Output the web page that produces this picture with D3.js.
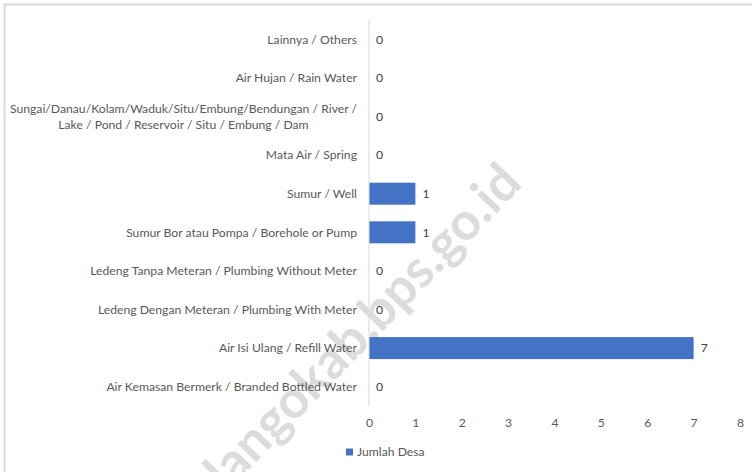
<!DOCTYPE html>
<html>
<head>
<meta charset="utf-8">
<script src="https://cdn.jsdelivr.net/npm/d3@7"></script>
<style>
  html, body { margin: 0; padding: 0; background: #fff; }
  svg { display: block; }
  text { font-family: Lato, "Open Sans", sans-serif; }
</style>
</head>
<body>
<svg id="chart" width="752" height="472"></svg>
<script>
// ---- data ----
const categories = [
  ["Lainnya / Others"],
  ["Air Hujan / Rain Water"],
  ["Sungai/Danau/Kolam/Waduk/Situ/Embung/Bendungan / River /", "Lake / Pond / Reservoir / Situ / Embung / Dam"],
  ["Mata Air / Spring"],
  ["Sumur / Well"],
  ["Sumur Bor atau Pompa / Borehole or Pump"],
  ["Ledeng Tanpa Meteran / Plumbing Without Meter"],
  ["Ledeng Dengan Meteran / Plumbing With Meter"],
  ["Air Isi Ulang / Refill Water"],
  ["Air Kemasan Bermerk / Branded Bottled Water"]
];
const values = [0, 0, 0, 0, 1, 1, 0, 0, 7, 0];
const xTicks = [0, 1, 2, 3, 4, 5, 6, 7, 8];
const seriesName = "Jumlah Desa";
const watermark = "bonebolangokab.bps.go.id";

// ---- drawing ----
const svg = d3.select("#chart");
const W = 752, H = 472;
const barColor = "#4472c4";
const textColor = "#595959";
const fs = 12.2;

svg.append("rect").attr("width", W).attr("height", H).attr("fill", "#fff");

// watermark (behind the chart)
svg.append("text")
  .attr("transform", "translate(524,185) rotate(-46)")
  .attr("text-anchor", "end")
  .attr("font-size", 52)
  .attr("font-weight", "bold")
  .attr("font-family", "'Liberation Sans', Arial, sans-serif")
  .attr("fill", "#dcdcdc")
  .text(watermark);

// outer frame
svg.append("rect")
  .attr("x", 4.5).attr("y", 4.5).attr("width", 900).attr("height", 900)
  .attr("fill", "none").attr("stroke", "#d9d9d9").attr("stroke-width", 2);

const keys = categories.map((c, i) => i);
const y = d3.scaleBand().domain(keys).range([20, 406]).paddingInner(0.43).paddingOuter(0.215);
const x = d3.scaleLinear().domain([0, 8]).range([369, 740]);

// bars
svg.append("g").selectAll("rect").data(values).join("rect")
  .attr("x", x(0))
  .attr("y", (d, i) => y(i))
  .attr("width", d => x(d) - x(0))
  .attr("height", y.bandwidth())
  .attr("fill", barColor);

// vertical axis line
svg.append("line")
  .attr("x1", x(0)).attr("x2", x(0))
  .attr("y1", y.range()[0]).attr("y2", y.range()[1])
  .attr("stroke", "#d9d9d9").attr("stroke-width", 1);

// x axis tick labels
const xAxis = d3.axisBottom(x).tickValues(xTicks).tickSize(0).tickPadding(0).tickFormat(d3.format("d"));
const gx = svg.append("g").attr("transform", `translate(0, 418)`).call(xAxis);
gx.select(".domain").remove();
gx.selectAll("text").attr("fill", textColor).attr("font-size", fs)
  .attr("font-family", "Lato, 'Open Sans', sans-serif");

// category labels
const labelRight = 357;
const lg = svg.append("g");
categories.forEach((lines, i) => {
  const cy = y(i) + y.bandwidth() / 2;
  const lh = 16;
  const g = lg.append("g");
  const texts = lines.map((ln, j) => g.append("text")
    .attr("y", cy + (j - (lines.length - 1) / 2) * lh)
    .attr("dy", "0.35em")
    .attr("font-size", fs)
    .attr("fill", textColor)
    .text(ln));
  const widths = texts.map(t => t.node().getComputedTextLength());
  const maxW = Math.max(...widths);
  texts.forEach(t => t.attr("x", labelRight - maxW / 2).attr("text-anchor", "middle"));
});

// value labels
svg.append("g").selectAll("text").data(values).join("text")
  .attr("x", d => x(d) + 7)
  .attr("y", (d, i) => y(i) + y.bandwidth() / 2)
  .attr("dy", "0.35em")
  .attr("font-size", fs)
  .attr("fill", "#404040")
  .text(d => d);

// legend
const leg = svg.append("g").attr("transform", "translate(346, 452)");
leg.append("rect").attr("x", 0).attr("y", -3.5).attr("width", 7).attr("height", 7).attr("fill", barColor);
leg.append("text").attr("x", 11).attr("dy", "0.35em").attr("font-size", fs).attr("fill", textColor).text(seriesName);
</script>
</body>
</html>
